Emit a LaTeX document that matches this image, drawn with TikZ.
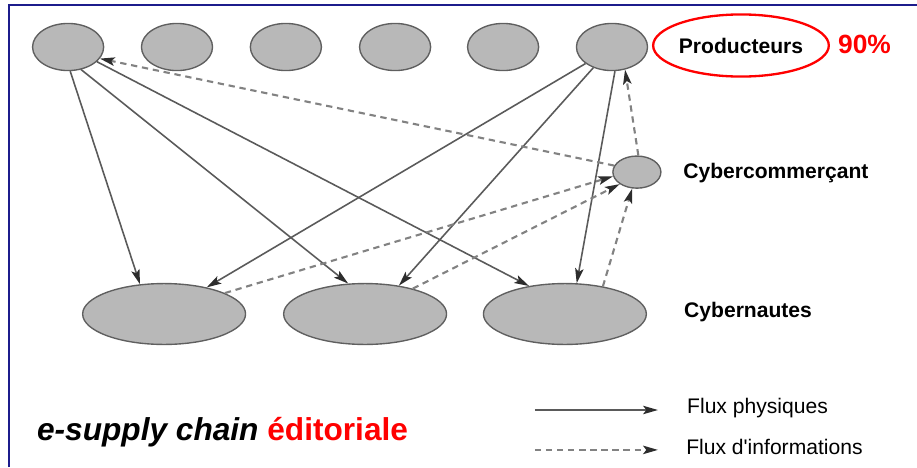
\documentclass[tikz,border=0pt]{standalone}
\usepackage{fontspec}
\setmainfont{Liberation Sans}
\usepackage{xcolor}
\usetikzlibrary{arrows.meta, shapes.geometric}

\definecolor{frameblue}{RGB}{28,28,140}
\definecolor{blobgray}{RGB}{184,184,184}
\definecolor{blobedge}{RGB}{95,95,95}
\definecolor{flowgray}{RGB}{90,90,90}
\definecolor{dashgray}{RGB}{130,130,130}
\definecolor{tipgray}{RGB}{45,45,45}

\begin{document}
\begin{tikzpicture}[
  >={Stealth[length=14pt,width=8pt,inset=3pt,color=tipgray,fill=tipgray]},
  blob/.style={ellipse, draw=blobedge, fill=blobgray, line width=1.3pt, inner sep=0pt},
  prodnode/.style={blob, minimum width=2.37cm, minimum height=1.57cm},
  netnode/.style={blob, minimum width=5.43cm, minimum height=2.03cm},
  shopnode/.style={blob, minimum width=1.6cm, minimum height=1.07cm},
  phys/.style={->, draw=flowgray, line width=1.5pt},
  info/.style={->, draw=dashgray, line width=2pt, dash pattern=on 6pt off 4.5pt},
  lbl/.style={font=\fontsize{20}{24}\selectfont\bfseries, anchor=base west, inner sep=0pt},
  legtext/.style={font=\fontsize{20}{24}\selectfont, anchor=base west, inner sep=0pt}
]
\useasboundingbox (0,0) rectangle (30.567,15.567);
\draw[frameblue, line width=2.2pt] (0.3,0) |- (30.567,15.4);

\node[prodnode] (P1) at (2.27,14.0) {};
\node[prodnode] (P2) at (5.90,14.0) {};
\node[prodnode] (P3) at (9.53,14.0) {};
\node[prodnode] (P4) at (13.17,14.0) {};
\node[prodnode] (P5) at (16.77,14.0) {};
\node[prodnode] (P6) at (20.40,14.0) {};
\node[shopnode] (CC) at (21.23,9.83) {};
\node[netnode] (C1) at (5.47,5.1) {};
\node[netnode] (C2) at (12.17,5.1) {};
\node[netnode] (C3) at (18.83,5.1) {};

\node[ellipse, draw=red, line width=2.2pt, minimum width=5.13cm, minimum height=2.07cm, inner sep=0pt,
      font=\fontsize{20}{24}\selectfont\bfseries] (prod) at (24.7,14.05) {Producteurs};
\node[lbl, text=red, font=\fontsize{25}{30}\selectfont\bfseries] (pct) at (27.93,13.8) {90\%};
\node[lbl] (shop) at (22.77,9.63) {Cybercommerçant};
\node[lbl] (net) at (22.8,5.0) {Cybernautes};

\draw[phys] (P1.275) -- (C1.129);
\draw[phys] (P1.300) -- (C2.119);
\draw[phys] (P1.333) -- (C3.142);
\draw[phys] (P6.212) -- (C1.32);
\draw[phys] (P6.228) -- (C2.40);
\draw[phys] (P6.277) -- (C3.69);

\draw[info] (CC.164) -- (P1.340);
\draw[info] (CC.85) -- (P6.300);
\draw[info] (C1.19) -- (CC.190);
\draw[info] (C2.28) -- (CC.215);
\draw[info] (C3.36) -- (CC.254);

\coordinate (physA) at (17.83,1.9);
\coordinate (physB) at (21.93,1.9);
\coordinate (infoA) at (17.83,0.57);
\coordinate (infoB) at (21.93,0.57);
\draw[phys] (physA) -- (physB);
\draw[info] (infoA) -- (infoB);
\node[legtext] (legphys) at (22.9,1.8) {Flux physiques};
\node[legtext] (leginfo) at (22.87,0.43) {Flux d\textquotesingle informations};

\node[anchor=base west, inner sep=0pt, font=\fontsize{30}{36}\selectfont\bfseries] (title) at (1.23,0.87)
  {\textit{e-supply chain} \textcolor{red}{éditoriale}};
\end{tikzpicture}
\end{document}
